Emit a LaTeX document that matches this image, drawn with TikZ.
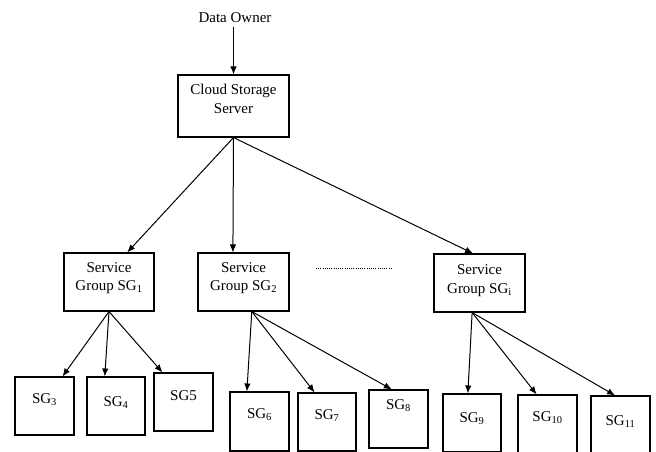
\documentclass[tikz,border=0pt]{standalone}
\usepackage{fontspec}
\setmainfont{Liberation Serif}
\usetikzlibrary{calc,arrows.meta}
\begin{document}
\begin{tikzpicture}[x=1pt,y=-1pt,
  every node/.style={font=\fontsize{15}{18.5}\selectfont},
  line width=1.1pt,
  arr/.style={-{Latex[length=8pt,width=6.5pt]}, line width=1pt},
  box/.style={draw, inner sep=0pt, text height=10pt, text depth=#1},
  leaf/.style={box=#1, minimum width=59pt, minimum height=58pt},
  leaf/.default=16pt,
  grp/.style={box=30pt, minimum width=91pt, minimum height=58pt}
]
\useasboundingbox (0,0) rectangle (656,452);
\newcommand{\grptext}[1]{\begin{tabular}[t]{@{}c@{}}Service\\Group SG\textsubscript{#1}\end{tabular}}

\node (do) at (235,18) {Data Owner};
\node[box=32pt, minimum width=111pt, minimum height=62pt] (css) at (233.5,106)
  {\begin{tabular}[t]{@{}c@{}}Cloud Storage\\Server\end{tabular}};

\node[grp, minimum width=90pt] (sg1) at (109,282) {\grptext{1}};
\node[grp] (sg2) at (243.5,282) {\grptext{2}};
\node[grp, box=27pt] (sgi) at (479.5,283) {\grptext{i}};

\node[leaf] (sg3) at (44.5,406) {SG\textsubscript{3}};
\node[leaf=10pt, minimum width=58pt] (sg4) at (116,406) {SG\textsubscript{4}};
\node[leaf=14pt] (sg5) at (183.5,402) {SG5};
\node[leaf, minimum height=59pt] (sg6) at (259.5,421.5) {SG\textsubscript{6}};
\node[leaf, minimum width=58pt] (sg7) at (327,422) {SG\textsubscript{7}};
\node[leaf=30pt] (sg8) at (398.5,419) {SG\textsubscript{8}};
\node[leaf=12pt, minimum width=58pt] (sg9) at (472,423) {SG\textsubscript{9}};
\node[leaf=16pt] (sg10) at (547.5,424) {SG\textsubscript{10}};
\node[leaf=10pt] (sg11) at (620.5,425) {SG\textsubscript{11}};

\coordinate (dotA) at (316,268);
\coordinate (dotB) at (391,268);
\draw[line width=1pt, dash pattern=on 1pt off 1.2pt] (dotA) -- (dotB);

\draw[arr] (do.south -| css.north) -- (css.north);

\draw[arr] (css.south) -- ($(sg1.north west)!0.70!(sg1.north east)$);
\draw[arr] (css.south) -- ($(sg2.north west)!0.385!(sg2.north east)$);
\draw[arr] (css.south) -- ($(sgi.north west)!0.43!(sgi.north east)$);

\draw[arr] (sg1.south) -- ($(sg3.north west)!0.80!(sg3.north east)$);
\draw[arr] (sg1.south) -- ($(sg4.north west)!0.31!(sg4.north east)$);
\draw[arr] (sg1.south) -- ($(sg5.north west)!0.15!(sg5.north east)$);

\coordinate (s2) at ($(sg2.south west)!0.59!(sg2.south east)$);
\draw[arr] (s2) -- ($(sg6.north west)!0.29!(sg6.north east)$);
\draw[arr] (s2) -- ($(sg7.north west)!0.29!(sg7.north east)$);
\draw[arr] (s2) -- ($(sg8.north west)!0.39!(sg8.north east)$);

\coordinate (si) at ($(sgi.south west)!0.42!(sgi.south east)$);
\draw[arr] (si) -- ($(sg9.north west)!0.43!(sg9.north east)$);
\draw[arr] (si) -- ($(sg10.north west)!0.32!(sg10.north east)$);
\draw[arr] (si) -- ($(sg11.north west)!0.41!(sg11.north east)$);
\end{tikzpicture}
\end{document}
